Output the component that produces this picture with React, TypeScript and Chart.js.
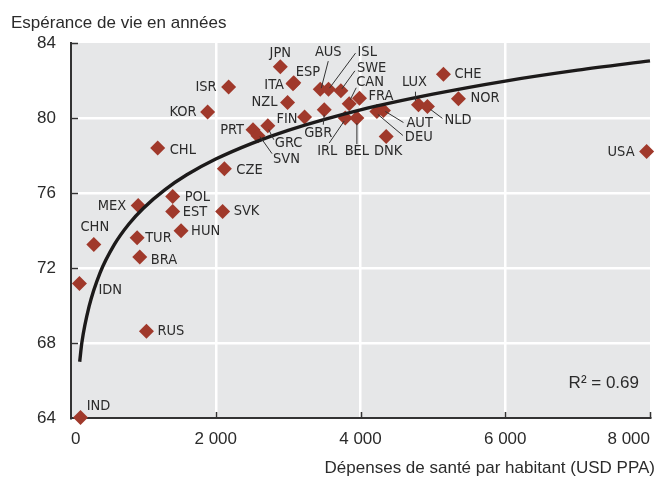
import React, { useEffect, useRef } from 'react';
import { Chart, registerables } from 'chart.js';

Chart.register(...registerables);

// ---- Data ----
const countries = ['IND', 'IDN', 'CHN', 'MEX', 'TUR', 'BRA', 'RUS', 'POL', 'EST', 'HUN', 'SVK', 'CHL', 'CZE', 'KOR', 'ISR', 'PRT', 'SVN', 'GRC', 'JPN', 'ITA', 'ESP', 'NZL', 'FIN', 'GBR', 'AUS', 'ISL', 'SWE', 'CAN', 'FRA', 'IRL', 'BEL', 'AUT', 'DEU', 'DNK', 'LUX', 'NLD', 'CHE', 'NOR', 'USA'];
const healthSpending = [131, 117, 315, 928, 914, 950, 1042, 1405, 1405, 1521, 2095, 1198, 2119, 1888, 2178, 2515, 2584, 2719, 2892, 3067, 3078, 2992, 3227, 3499, 3444, 3558, 3729, 3844, 3986, 3789, 3950, 4317, 4226, 4355, 4801, 4925, 5146, 5353, 7953];
const lifeExpectancy = [64.03, 71.17, 73.25, 75.33, 73.61, 72.59, 68.63, 75.82, 75.01, 73.99, 75.02, 78.4, 77.3, 80.32, 81.65, 79.38, 79.06, 79.59, 82.73, 81.83, 81.88, 80.83, 80.05, 80.44, 81.54, 81.54, 81.45, 80.76, 81.06, 80.0, 80.0, 80.4, 80.35, 79.02, 80.71, 80.62, 82.34, 81.03, 78.22];

// Logarithmic trend curve
const trendSpending = [120, 150, 250, 400, 600, 800, 1000, 1300, 1600, 2000, 2500, 3000, 4000, 5000, 6000, 7000, 8000];
const trendLifeExp = [67.0, 68.02, 69.95, 71.73, 73.26, 74.35, 75.19, 76.18, 76.97, 77.81, 78.65, 79.34, 80.43, 81.27, 81.97, 82.55, 83.05];

const xMin = 0;
const xMax = 8000;
const xStep = 2000;
const yMin = 64;
const yMax = 84;
const yStep = 4;

const chartTitle = 'Espérance de vie en années';
const xAxisTitle = 'Dépenses de santé par habitant (USD PPA)';
const r2Label = 'R² = 0.69';

// ---- Label layout (pixel offsets from each marker) ----
type Place = { dx: number; dy: number; align: 'left' | 'right' | 'center'; lead?: [number, number, number, number] };
const labelPlacement: Record<string, Place> = {
  IND: { dx: 18, dy: -11, align: 'center' },
  IDN: { dx: 19, dy: 7, align: 'left' },
  CHN: { dx: 1, dy: -17, align: 'center' },
  MEX: { dx: -12, dy: 1, align: 'right' },
  TUR: { dx: 8, dy: 0, align: 'left' },
  BRA: { dx: 11, dy: 3, align: 'left' },
  RUS: { dx: 11, dy: 0, align: 'left' },
  POL: { dx: 12, dy: 1, align: 'left' },
  EST: { dx: 10, dy: 1, align: 'left' },
  HUN: { dx: 10, dy: 1, align: 'left' },
  SVK: { dx: 11, dy: 0, align: 'left' },
  CHL: { dx: 12, dy: 2, align: 'left' },
  CZE: { dx: 12, dy: 2, align: 'left' },
  KOR: { dx: -11, dy: 0, align: 'right' },
  ISR: { dx: -12, dy: 0, align: 'right' },
  PRT: { dx: -9, dy: 1, align: 'right' },
  SVN: { dx: 15, dy: 24, align: 'left', lead: [2, 1, 14, 18] },
  GRC: { dx: 7, dy: 18, align: 'left', lead: [1, 4, 6, 14] },
  JPN: { dx: 0, dy: -14, align: 'center' },
  ITA: { dx: -9, dy: 2, align: 'right' },
  ESP: { dx: 2, dy: -11, align: 'left' },
  NZL: { dx: -10, dy: 0, align: 'right' },
  FIN: { dx: -7, dy: 2, align: 'right' },
  GBR: { dx: -6, dy: 23, align: 'center', lead: [0, 5, -1, 15] },
  AUS: { dx: 8, dy: -37, align: 'center', lead: [1, -1, 8, -28] },
  ISL: { dx: 29, dy: -37, align: 'left', lead: [1, -1, 27, -36] },
  SWE: { dx: 16, dy: -23, align: 'left', lead: [1, -2, 14, -20] },
  CAN: { dx: 7, dy: -22, align: 'left', lead: [1, -4, 7, -16] },
  FRA: { dx: 9, dy: -2, align: 'left' },
  IRL: { dx: -18, dy: 33, align: 'center', lead: [-1, 3, -16, 25] },
  BEL: { dx: 0, dy: 33, align: 'center', lead: [0, 5, 0, 26] },
  AUT: { dx: 23, dy: 13, align: 'left', lead: [2, 1, 20, 12] },
  DEU: { dx: 28, dy: 26, align: 'left', lead: [1, 3, 26, 24] },
  DNK: { dx: 2, dy: 15, align: 'center' },
  LUX: { dx: -4, dy: -22, align: 'center', lead: [-3, -4, -3, -13] },
  NLD: { dx: 17, dy: 14, align: 'left', lead: [3, 3, 15, 12] },
  CHE: { dx: 11, dy: 0, align: 'left' },
  NOR: { dx: 12, dy: 0, align: 'left' },
  USA: { dx: -12, dy: 1, align: 'right' },
};

const TEXT = '#2b2b2b';
const MARKER = '#a0392b';
const PLOT_BG = '#e6e7e8';
const MAIN_FONT = '"Liberation Sans", Arial, sans-serif';
const LABEL_FONT = '"Liberation Sans Narrow", "DejaVu Sans Condensed", sans-serif';

const decorPlugin = {
  id: 'decor',
  beforeDraw(chart: any) {
    const { ctx, chartArea: a } = chart;
    ctx.save();
    ctx.fillStyle = PLOT_BG;
    ctx.fillRect(a.left, a.top, a.right - a.left, a.bottom - a.top);
    ctx.restore();
  },
  beforeDatasetsDraw(chart: any) {
    const { ctx, chartArea: a, scales } = chart;
    ctx.save();
    ctx.strokeStyle = '#333';
    ctx.lineWidth = 1.5;
    ctx.beginPath();
    scales.y.ticks.forEach((t: any) => {
      if (t.value === yMin) return;
      const py = Math.round(scales.y.getPixelForValue(t.value)) + 0.5;
      ctx.moveTo(a.left, py);
      ctx.lineTo(a.left + 7, py);
    });
    scales.x.ticks.forEach((t: any) => {
      if (t.value === xMin) return;
      const px = Math.round(scales.x.getPixelForValue(t.value)) + 0.5;
      ctx.moveTo(px, a.bottom);
      ctx.lineTo(px, a.bottom - 6);
    });
    ctx.stroke();
    ctx.restore();
  },
  afterDatasetsDraw(chart: any) {
    const { ctx, scales } = chart;
    ctx.save();
    ctx.font = `14.5px ${LABEL_FONT}`;
    ctx.fillStyle = TEXT;
    ctx.strokeStyle = '#333';
    ctx.lineWidth = 1;
    ctx.textBaseline = 'middle';
    countries.forEach((code, i) => {
      const p = labelPlacement[code];
      if (!p) return;
      const px = scales.x.getPixelForValue(healthSpending[i]);
      const py = scales.y.getPixelForValue(lifeExpectancy[i]);
      if (p.lead) {
        ctx.beginPath();
        ctx.moveTo(px + p.lead[0], py + p.lead[1]);
        ctx.lineTo(px + p.lead[2], py + p.lead[3]);
        ctx.stroke();
      }
      ctx.textAlign = p.align;
      ctx.fillText(code, px + p.dx, py + p.dy);
    });
    ctx.restore();
  },
  afterDraw(chart: any) {
    const { ctx, chartArea: a } = chart;
    ctx.save();
    ctx.fillStyle = TEXT;
    ctx.font = `17px ${MAIN_FONT}`;
    ctx.textBaseline = 'alphabetic';
    ctx.textAlign = 'left';
    ctx.fillText(chartTitle, 11, 27.5);
    ctx.textAlign = 'right';
    ctx.fillText(xAxisTitle, 655, 473);
    ctx.fillText(r2Label, a.right - 11, a.bottom - 30);
    ctx.restore();
  },
};

export default function App() {
  const ref = useRef<HTMLCanvasElement | null>(null);

  useEffect(() => {
    document.body.style.margin = '0';
    const canvas = ref.current;
    if (!canvas) return;
    const points = healthSpending.map((x, i) => ({ x, y: lifeExpectancy[i] }));
    const trend = trendSpending.map((x, i) => ({ x, y: trendLifeExp[i] }));
    const chart = new Chart(canvas, {
      type: 'scatter',
      data: {
        datasets: [
          {
            type: 'line',
            label: 'Tendance',
            data: trend,
            borderColor: '#1c1a1a',
            borderWidth: 3.4,
            pointRadius: 0,
            showLine: true,
            cubicInterpolationMode: 'monotone',
            fill: false,
            order: 0,
            clip: false,
          } as any,
          {
            label: 'Pays',
            data: points,
            pointStyle: 'rectRot',
            pointRadius: 7.5,
            pointBackgroundColor: MARKER,
            pointBorderWidth: 0,
            borderWidth: 0,
            order: 1,
            clip: false,
          } as any,
        ],
      },
      options: {
        responsive: false,
        animation: false,
        events: [],
        layout: { padding: { left: 0, right: 8, top: 43, bottom: 0 } },
        plugins: {
          legend: { display: false },
          tooltip: { enabled: false },
          title: { display: false },
        },
        scales: {
          x: {
            type: 'linear',
            min: xMin,
            max: xMax,
            ticks: {
              stepSize: xStep,
              align: 'inner',
              padding: 11,
              color: TEXT,
              font: { family: MAIN_FONT, size: 17 },
              callback: (v: any) => (v === 0 ? '0' : `${Number(v) / 1000} 000`),
              maxRotation: 0,
            },
            grid: {
              color: (c: any) => (c.tick && (c.tick.value === xMin || c.tick.value === xMax) ? 'rgba(0,0,0,0)' : '#ffffff'),
              lineWidth: 2.5,
              drawTicks: false,
            },
            border: { display: true, color: '#333', width: 2 },
            afterFit: (s: any) => {
              s.height = 60;
              s.paddingLeft = 0;
              s.paddingRight = 0;
            },
          },
          y: {
            type: 'linear',
            min: yMin,
            max: yMax,
            ticks: {
              stepSize: yStep,
              padding: 15,
              color: TEXT,
              font: { family: MAIN_FONT, size: 17 },
            },
            grid: {
              color: (c: any) => (c.tick && (c.tick.value === yMin || c.tick.value === yMax) ? 'rgba(0,0,0,0)' : '#ffffff'),
              lineWidth: 2.5,
              drawTicks: false,
            },
            border: { display: true, color: '#333', width: 2 },
            afterFit: (s: any) => {
              s.width = 71;
              s.paddingTop = 0;
              s.paddingBottom = 0;
            },
          },
        },
      },
      plugins: [decorPlugin],
    });
    return () => chart.destroy();
  }, []);

  return (
    <div style={{ position: 'absolute', left: 0, top: 0, width: 658, height: 478 }}>
      <canvas ref={ref} width={658} height={478} style={{ display: 'block' }} />
    </div>
  );
}
